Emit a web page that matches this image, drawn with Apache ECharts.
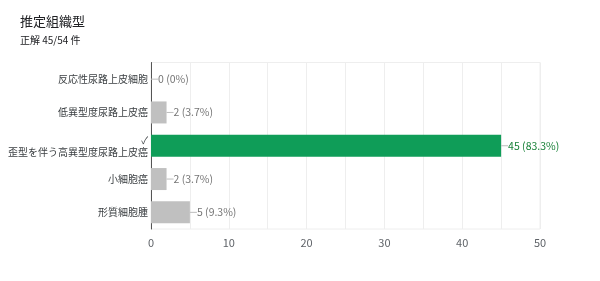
<!DOCTYPE html>
<html><head><meta charset="utf-8">
<script src="https://cdn.jsdelivr.net/npm/echarts@6/dist/echarts.min.js"></script>
<style>html,body{margin:0;padding:0;background:#fff}#c{width:600px;height:281px}</style>
</head><body><div id="c"></div>
<script>
const titleText = '推定組織型';
const subText = '正解 45/54 件';
const categories = ['反応性尿路上皮細胞', '低異型度尿路上皮癌', '歪型を伴う高異型度尿路上皮癌', '小細胞癌', '形質細胞腫'];
const values = [0, 2, 45, 2, 5];
const percents = ['0%', '3.7%', '83.3%', '3.7%', '9.3%'];
const correctIndex = 2;
const xTicks = [0, 10, 20, 30, 40, 50];

const FONT = '"Noto Sans CJK JP", Roboto, sans-serif';
const chart = echarts.init(document.getElementById('c'));
chart.setOption({
  animation: false,
  title: {
    text: titleText, subtext: subText, left: 20, top: 15, itemGap: 7, padding: 0,
    textStyle: {fontFamily: FONT, fontSize: 13, fontWeight: 'normal', color: '#202124'},
    subtextStyle: {fontFamily: FONT, fontSize: 10, color: '#202124'}
  },
  grid: {left: 151, right: 60, top: 62.5, bottom: 52, show: true, borderColor: '#eeeeee', borderWidth: 1, outerBoundsMode: 'none', containLabel: false},
  xAxis: {
    type: 'value', min: 0, max: 50, interval: 5,
    axisLine: {show: false}, axisTick: {show: false},
    splitLine: {lineStyle: {color: '#eeeeee'}},
    axisLabel: {
      fontFamily: FONT, fontSize: 11, color: '#5f6368', margin: 8,
      formatter: v => xTicks.includes(v) ? String(v) : ''
    }
  },
  yAxis: {
    type: 'category', data: categories, inverse: true,
    axisLine: {lineStyle: {color: '#555', width: 1}},
    axisTick: {show: false},
    axisLabel: {
      fontFamily: FONT, fontSize: 10, color: '#3c4043', margin: 3, lineHeight: 12,
      formatter: (v, i) => i === correctIndex ? '{c|✓}\n' + v : v,
      rich: {c: {fontSize: 10, color: '#3c4043', align: 'right'}}
    }
  },
  series: [{
    type: 'bar', barWidth: 22,
    data: values.map((v, i) => ({
      value: v,
      itemStyle: {color: i === correctIndex ? '#0f9d58' : '#c0c0c0'},
      label: {color: i === correctIndex ? '#188038' : '#757575'}
    })),
    label: {
      show: true, position: 'right', distance: 0,
      fontFamily: FONT, fontSize: 10.5,
      formatter: p => '{l|}' + p.value + ' (' + percents[p.dataIndex] + ')',
      rich: {l: {width: 7, height: 1, backgroundColor: '#bdbdbd', padding: 0}}
    }
  }]
});
</script></body></html>
